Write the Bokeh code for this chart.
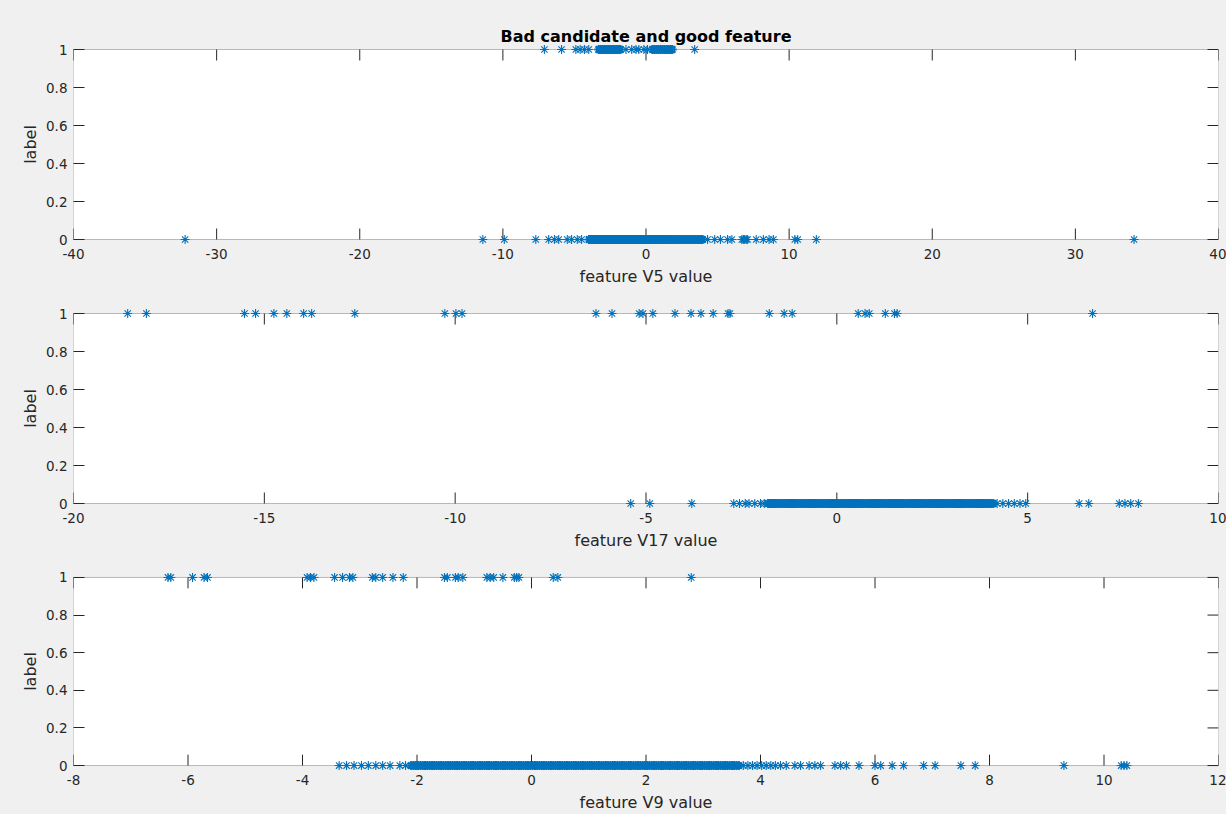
from bokeh.plotting import figure
from bokeh.layouts import column
from bokeh.models import NumeralTickFormatter, FixedTicker, Range1d, BoxAnnotation
from bokeh.embed import file_html
from bokeh.resources import INLINE

TITLE = "Bad candidate and good feature"
Y_LABEL = "label"
Y_TICKS = [0, 0.2, 0.4, 0.6, 0.8, 1]

# Panel 1: feature V5 (sparse points and the densely packed core of each row)
v5_xlabel = "feature V5 value"
v5_xrange = (-40, 40)
v5_xticks = [-40, -30, -20, -10, 0, 10, 20, 30, 40]
v5_label1 = [-7.1, -5.9, -4.9, -4.6, -4.3, -4.0, -1.4, -1.0, -0.7, -0.5, -0.15, 0.1, 3.4]
v5_label1_core = [-3.3, -3.16, -3.02, -2.88, -2.74, -2.6, -2.46, -2.32, -2.18, -2.04,
                  -1.9, -1.8, 0.45, 0.59, 0.73, 0.87, 1.01, 1.15, 1.29, 1.43, 1.57,
                  1.71, 1.83]
v5_label0 = [-32.2, -11.4, -9.9, -7.7, -6.8, -6.4, -6.1, -5.5, -5.2, -4.8, -4.5,
             4.3, 4.8, 5.2, 5.7, 6.0, 6.7, 6.8, 6.9, 7.0, 7.1,
             7.7, 8.2, 8.6, 8.9, 10.4, 10.6, 11.9, 34.1]
v5_label0_core = [-3.98, -3.84, -3.7, -3.56, -3.42, -3.28, -3.14, -3.0, -2.86, -2.72,
                  -2.58, -2.44, -2.3, -2.16, -2.02, -1.88, -1.74, -1.6, -1.46, -1.32,
                  -1.18, -1.04, -0.9, -0.76, -0.62, -0.48, -0.34, -0.2, -0.06, 0.08,
                  0.22, 0.36, 0.5, 0.64, 0.78, 0.92, 1.06, 1.2, 1.34, 1.48, 1.62, 1.76,
                  1.9, 2.04, 2.18, 2.32, 2.46, 2.6, 2.74, 2.88, 3.02, 3.16, 3.3, 3.44,
                  3.58, 3.72, 3.86, 3.94]

# Panel 2: feature V17
v17_xlabel = "feature V17 value"
v17_xrange = (-20, 10)
v17_xticks = [-20, -15, -10, -5, 0, 5, 10]
v17_label1 = [-18.58, -18.09, -15.52, -15.23, -14.75, -14.41, -13.97, -13.76, -12.63,
              -10.27, -9.98, -9.82, -6.31, -5.89, -5.18, -5.08, -4.82, -4.24, -3.82,
              -3.56, -3.24, -2.85, -2.8, -1.77, -1.38, -1.17, 0.56, 0.74, 0.85, 1.27,
              1.51, 1.58, 6.7]
v17_label1_core = []
v17_label0 = [-5.4, -4.9, -3.8, -2.7, -2.55, -2.4, -2.3, -2.15, -2.0, -1.9,
              4.2, 4.35, 4.5, 4.65, 4.8, 4.95, 6.35, 6.6, 7.4, 7.55, 7.7, 7.9]
v17_label0_core = [-1.8, -1.75, -1.7, -1.65, -1.6, -1.55, -1.5, -1.45, -1.4, -1.35,
                   -1.3, -1.25, -1.2, -1.15, -1.1, -1.05, -1.0, -0.95, -0.9, -0.85,
                   -0.8, -0.75, -0.7, -0.65, -0.6, -0.55, -0.5, -0.45, -0.4, -0.35,
                   -0.3, -0.25, -0.2, -0.15, -0.1, -0.05, 0.0, 0.05, 0.1, 0.15, 0.2,
                   0.25, 0.3, 0.35, 0.4, 0.45, 0.5, 0.55, 0.6, 0.65, 0.7, 0.75, 0.8,
                   0.85, 0.9, 0.95, 1.0, 1.05, 1.1, 1.15, 1.2, 1.25, 1.3, 1.35, 1.4,
                   1.45, 1.5, 1.55, 1.6, 1.65, 1.7, 1.75, 1.8, 1.85, 1.9, 1.95, 2.0,
                   2.05, 2.1, 2.15, 2.2, 2.25, 2.3, 2.35, 2.4, 2.45, 2.5, 2.55, 2.6,
                   2.65, 2.7, 2.75, 2.8, 2.85, 2.9, 2.95, 3.0, 3.05, 3.1, 3.15, 3.2,
                   3.25, 3.3, 3.35, 3.4, 3.45, 3.5, 3.55, 3.6, 3.65, 3.7, 3.75, 3.8,
                   3.85, 3.9, 3.95, 4.0, 4.05, 4.1]

# Panel 3: feature V9
v9_xlabel = "feature V9 value"
v9_xrange = (-8, 12)
v9_xticks = [-8, -6, -4, -2, 0, 2, 4, 6, 8, 10, 12]
v9_label1 = [-6.35, -6.3, -5.92, -5.72, -5.66, -3.92, -3.86, -3.8, -3.44, -3.3,
             -3.18, -3.12, -2.78, -2.72, -2.6, -2.42, -2.24, -1.52, -1.47, -1.33,
             -1.28, -1.2, -0.78, -0.72, -0.66, -0.5, -0.3, -0.26, -0.22, 0.38, 0.46,
             2.79]
v9_label1_core = []
v9_label0 = [-3.36, -3.23, -3.1, -2.97, -2.85, -2.72, -2.6, -2.47, -2.3, -2.2,
             3.7, 3.78, 3.86, 3.94, 4.02, 4.1, 4.18, 4.26, 4.35, 4.45,
             4.6, 4.7, 4.85, 4.95, 5.05, 5.3, 5.4, 5.5, 5.72,
             6.0, 6.1, 6.3, 6.5, 6.85, 7.05, 7.5, 7.75, 9.3, 10.3, 10.35, 10.4]
v9_label0_core = [-2.10, -2.06, -2.02, -1.98, -1.94, -1.90, -1.86, -1.82, -1.78, -1.74,
                  -1.70, -1.66, -1.62, -1.58, -1.54, -1.50, -1.46, -1.42, -1.38, -1.34,
                  -1.30, -1.26, -1.22, -1.18, -1.14, -1.10, -1.06, -1.02, -0.98, -0.94,
                  -0.90, -0.86, -0.82, -0.78, -0.74, -0.70, -0.66, -0.62, -0.58, -0.54,
                  -0.50, -0.46, -0.42, -0.38, -0.34, -0.30, -0.26, -0.22, -0.18, -0.14,
                  -0.10, -0.06, -0.02, 0.02, 0.06, 0.10, 0.14, 0.18, 0.22, 0.26, 0.30,
                  0.34, 0.38, 0.42, 0.46, 0.50, 0.54, 0.58, 0.62, 0.66, 0.70, 0.74,
                  0.78, 0.82, 0.86, 0.90, 0.94, 0.98, 1.02, 1.06, 1.10, 1.14, 1.18,
                  1.22, 1.26, 1.30, 1.34, 1.38, 1.42, 1.46, 1.50, 1.54, 1.58, 1.62,
                  1.66, 1.70, 1.74, 1.78, 1.82, 1.86, 1.90, 1.94, 1.98, 2.02, 2.06,
                  2.10, 2.14, 2.18, 2.22, 2.26, 2.30, 2.34, 2.38, 2.42, 2.46, 2.50,
                  2.54, 2.58, 2.62, 2.66, 2.70, 2.74, 2.78, 2.82, 2.86, 2.90, 2.94,
                  2.98, 3.02, 3.06, 3.10, 3.14, 3.18, 3.22, 3.26, 3.30, 3.34, 3.38,
                  3.42, 3.46, 3.50, 3.54, 3.58, 3.62]

BG = "#f0f0f0"
AX = "#262626"
MK = "#0072BD"
FONT = "DejaVu Sans"

BOX_W = 1145      # pixel width of the axes box
BOX_H = 190       # pixel height of the axes box (y from 0 to 1)
PAD = 6           # extra frame pixels above/below so markers at 0 and 1 are not cut
TICK = 11         # MATLAB inward tick length in pixels


def make_panel(xr, xticks, xlabel, x1, x1c, x0, x0c, height, top, bottom, title=None):
    pad = PAD / BOX_H
    p = figure(width=73 + BOX_W + 8, height=height, output_backend="svg",
               toolbar_location=None,
               x_range=Range1d(*xr), y_range=Range1d(-pad, 1 + pad),
               min_border_left=73, min_border_right=8,
               min_border_top=top, min_border_bottom=bottom,
               background_fill_color=BG, border_fill_color=BG,
               outline_line_color=None)
    p.grid.visible = False

    # white axes box with its outline
    p.add_layout(BoxAnnotation(left=xr[0], right=xr[1], bottom=0, top=1,
                               fill_color="white", fill_alpha=1,
                               line_color=AX, line_width=1, level="underlay"))

    if title:
        p.title.text = title
        p.title.align = "center"
        p.title.text_font = FONT
        p.title.text_font_size = "16px"
        p.title.text_font_style = "bold"
        p.title.text_color = "black"
        p.title.standoff = -4

    xa = p.xaxis[0]
    xa.ticker = FixedTicker(ticks=xticks)
    xa.formatter = NumeralTickFormatter(format="0")
    xa.axis_line_color = None
    xa.major_tick_in = 0
    xa.major_tick_out = 0
    xa.minor_tick_in = 0
    xa.minor_tick_out = 0
    xa.major_label_standoff = 3
    xa.major_label_text_font = FONT
    xa.major_label_text_font_size = "13.5px"
    xa.major_label_text_color = AX
    xa.axis_label = xlabel
    xa.axis_label_standoff = 5
    xa.axis_label_text_font = FONT
    xa.axis_label_text_font_size = "16px"
    xa.axis_label_text_font_style = "normal"
    xa.axis_label_text_color = AX

    ya = p.yaxis[0]
    ya.ticker = FixedTicker(ticks=Y_TICKS)
    ya.formatter = NumeralTickFormatter(format="0.[0]")
    ya.axis_line_color = None
    ya.major_tick_in = TICK
    ya.major_tick_out = 0
    ya.major_tick_line_color = AX
    ya.minor_tick_in = 0
    ya.minor_tick_out = 0
    ya.major_label_standoff = 6
    ya.major_label_text_font = FONT
    ya.major_label_text_font_size = "13.5px"
    ya.major_label_text_color = AX
    ya.axis_label = Y_LABEL
    ya.axis_label_standoff = 3
    ya.axis_label_text_font = FONT
    ya.axis_label_text_font_size = "16px"
    ya.axis_label_text_font_style = "normal"
    ya.axis_label_text_color = AX

    # inward ticks on bottom, top and right edges of the box (MATLAB box style)
    dy = TICK / BOX_H
    dx = TICK * (xr[1] - xr[0]) / BOX_W
    n = len(xticks)
    p.segment(x0=xticks, y0=[0] * n, x1=xticks, y1=[dy] * n, line_color=AX, line_width=1)
    p.segment(x0=xticks, y0=[1] * n, x1=xticks, y1=[1 - dy] * n, line_color=AX, line_width=1)
    m = len(Y_TICKS)
    p.segment(x0=[xr[1]] * m, y0=Y_TICKS, x1=[xr[1] - dx] * m, y1=Y_TICKS,
              line_color=AX, line_width=1)

    # sparse points: thin asterisks; packed cores: overlapping asterisks drawn bolder
    for xs, yv, lw in ((x1, 1, 1.1), (x0, 0, 1.1), (x1c, 1, 2.2), (x0c, 0, 2.2)):
        if xs:
            p.scatter(xs, [yv] * len(xs), marker="asterisk", size=9,
                      line_color=MK, line_width=lw)
    return p


p1 = make_panel(v5_xrange, v5_xticks, v5_xlabel, v5_label1, v5_label1_core,
                v5_label0, v5_label0_core, 290, 43, 45, title=TITLE)
p2 = make_panel(v17_xrange, v17_xticks, v17_xlabel, v17_label1, v17_label1_core,
                v17_label0, v17_label0_core, 264, 17, 45)
p3 = make_panel(v9_xrange, v9_xticks, v9_xlabel, v9_label1, v9_label1_core,
                v9_label0, v9_label0_core, 260, 17, 41)

layout = column(p1, p2, p3, spacing=0, styles={"background-color": BG})
open("out.html", "w").write(file_html(layout, INLINE))
